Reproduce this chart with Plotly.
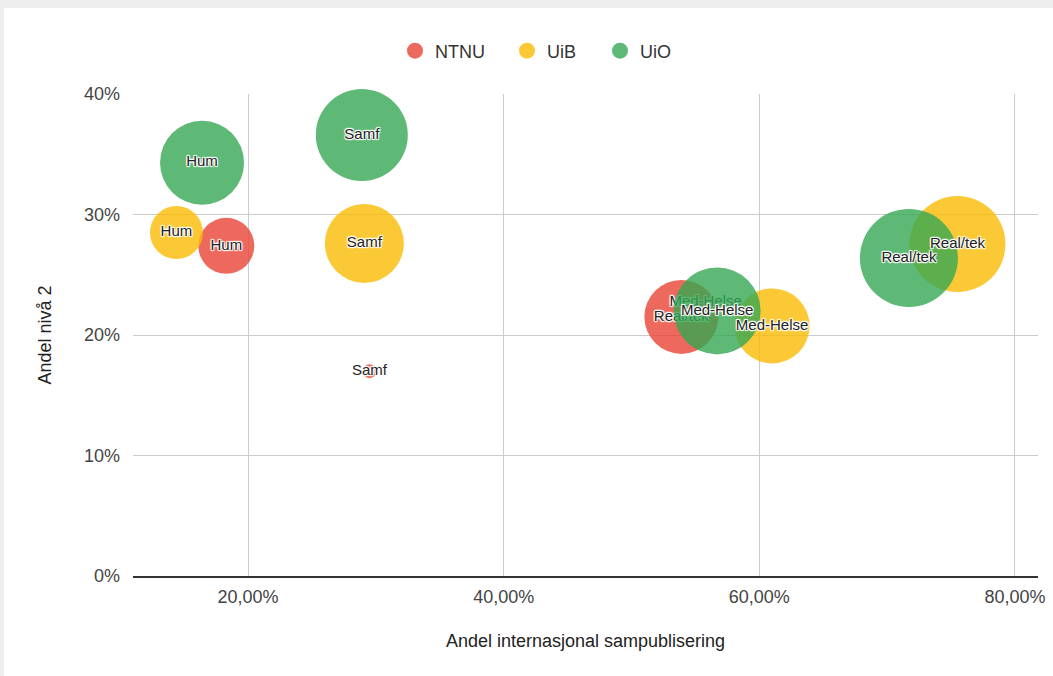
import plotly.graph_objects as go

# ---- data ----
fields = ["Hum", "Samf", "Real/tek", "Med-Helse"]

ntnu_x = [18.3, 29.5, 53.9, 55.8]
ntnu_y = [27.4, 17.0, 21.5, 22.7]
ntnu_size = [56, 14, 74, 10]

uib_x = [14.4, 29.1, 75.5, 61.0]
uib_y = [28.5, 27.6, 27.55, 20.75]
uib_size = [53, 79, 96, 75]

uio_x = [16.4, 28.9, 71.7, 56.7]
uio_y = [34.3, 36.6, 26.4, 22.0]
uio_size = [84, 92, 98, 87]

x_tickvals = [20, 40, 60, 80]
x_ticktext = ["20,00%", "40,00%", "60,00%", "80,00%"]
y_tickvals = [0, 10, 20, 30, 40]
y_ticktext = ["0%", "10%", "20%", "30%", "40%"]

colors = {"NTNU": "#ea4335", "UiB": "#fbbc04", "UiO": "#34a853"}

FONT = "Liberation Sans, Arial, sans-serif"
halo = "1px 1px 1px #fff, -1px -1px 1px #fff, 1px -1px 1px #fff, -1px 1px 1px #fff, 0px 1px 1px #fff, 0px -1px 1px #fff"

fig = go.Figure()

series = [("NTNU", ntnu_x, ntnu_y, ntnu_size),
          ("UiB", uib_x, uib_y, uib_size),
          ("UiO", uio_x, uio_y, uio_size)]
legend_ids = ["legend", "legend2", "legend3"]
legend_left_px = [395, 507, 600]

label_font = dict(family=FONT, size=15, color="#222222", shadow=halo)

# bubbles (NTNU labels drawn with its bubbles so later bubbles cover them)
for (name, xs, ys, ss), lg in zip(series, legend_ids):
    fig.add_trace(go.Scatter(
        x=xs, y=ys, name=name, legend=lg,
        mode="markers+text" if name == "NTNU" else "markers",
        text=fields,
        textposition="middle center",
        textfont=label_font if name == "NTNU" else dict(color="rgba(0,0,0,0)"),
        marker=dict(size=ss, sizemode="diameter", sizeref=1,
                    color=colors[name], opacity=0.8, line=dict(width=0)),
        cliponaxis=False,
        hovertemplate=name + " %{text}<br>%{x:.2f}%, %{y:.1f}%<extra></extra>",
    ))

# labels for UiB and UiO on top
for name, xs, ys, ss in series[1:]:
    fig.add_trace(go.Scatter(
        x=xs, y=ys, mode="text", text=fields,
        textposition="middle center", textfont=label_font,
        showlegend=False, hoverinfo="skip", cliponaxis=False,
    ))

legend_common = dict(orientation="h", xref="container", yref="container",
                     xanchor="left", y=1 - 51 / 676, yanchor="middle",
                     font=dict(size=18, color="#333333"), itemsizing="trace",
                     bgcolor="rgba(0,0,0,0)")

fig.update_layout(
    width=1053, height=676,
    paper_bgcolor="white", plot_bgcolor="white",
    margin=dict(l=133, r=15, t=94, b=100, autoexpand=False),
    font=dict(family=FONT, size=18, color="#444444"),
    showlegend=True,
    legend=dict(legend_common, x=legend_left_px[0] / 1053),
    legend2=dict(legend_common, x=legend_left_px[1] / 1053),
    legend3=dict(legend_common, x=legend_left_px[2] / 1053),
    xaxis=dict(range=[11.0, 81.8], tickvals=x_tickvals, ticktext=x_ticktext,
               automargin=False,
               showgrid=True, gridcolor="#cccccc", gridwidth=1,
               zeroline=False, showline=True, linecolor="#333333", linewidth=1.5,
               ticks="", ticklabelstandoff=4,
               tickfont=dict(size=18, color="#444444"),
               title=dict(text="Andel internasjonal sampublisering", standoff=28,
                          font=dict(size=18, color="#222222"))),
    yaxis=dict(range=[0, 40], tickvals=y_tickvals, ticktext=y_ticktext,
               automargin=False,
               showgrid=True, gridcolor="#cccccc", gridwidth=1,
               zeroline=False, showline=False,
               ticks="", ticklabelstandoff=12,
               tickfont=dict(size=18, color="#444444"),
               title=dict(text="Andel nivå 2", standoff=27,
                          font=dict(size=18, color="#222222"))),
    shapes=[
        dict(type="rect", xref="paper", yref="paper", xsizemode="pixel", xanchor=0,
             x0=-133, x1=-129, y0=-2, y1=2, fillcolor="#eeeeee", line=dict(width=0), layer="above"),
        dict(type="rect", xref="paper", yref="paper", ysizemode="pixel", yanchor=1,
             y0=86, y1=94, x0=-1, x1=2, fillcolor="#eeeeee", line=dict(width=0), layer="above"),
    ],
)

fig.write_html("out.html", config={"displayModeBar": False},
               post_script="document.body.style.margin='0px';document.body.style.padding='0px';")
